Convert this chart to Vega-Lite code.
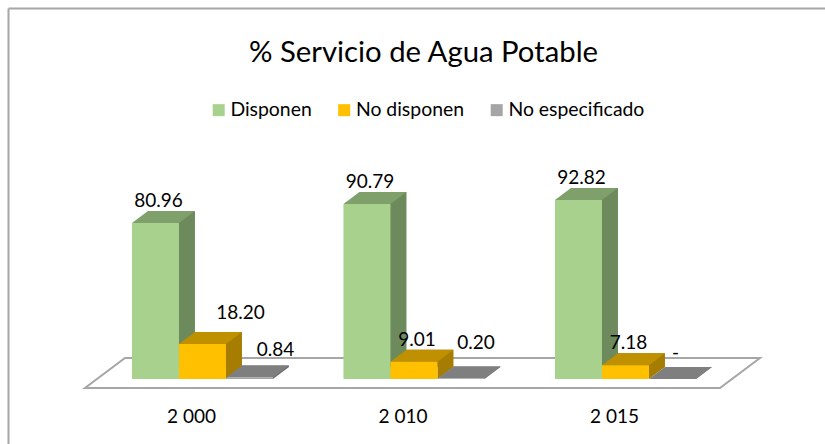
{
"$schema":"https://vega.github.io/schema/vega-lite/v6.json",
"width":817,"height":436,
"autosize":{"type":"none"},
"padding":{"left":8,"top":8,"right":0,"bottom":0},
"background":"white",
"config":{"view":{"stroke":null},"font":"Lato"},
"title":{"text":"% Servicio de Agua Potable","font":"Lato","fontSize":29.3,"fontWeight":"normal","color":"#000000","anchor":"start","dx":241,"offset":-60},
"data":{"values":[
{"year":"2 000","series":"Disponen","value":80.96,"label":"80.96"},
{"year":"2 000","series":"No disponen","value":18.20,"label":"18.20"},
{"year":"2 000","series":"No especificado","value":0.84,"label":"0.84"},
{"year":"2 010","series":"Disponen","value":90.79,"label":"90.79"},
{"year":"2 010","series":"No disponen","value":9.01,"label":"9.01"},
{"year":"2 010","series":"No especificado","value":0.20,"label":"0.20"},
{"year":"2 015","series":"Disponen","value":92.82,"label":"92.82"},
{"year":"2 015","series":"No disponen","value":7.18,"label":"7.18"},
{"year":"2 015","series":"No especificado","value":0,"label":"-"}
]},
"encoding":{
"x":{"field":"year","type":"nominal","title":null,"scale":{"range":[0,817],"paddingInner":0.3333,"paddingOuter":0.5981,"align":0.49},
"axis":{"domain":false,"ticks":false,"labelAngle":0,"labelFont":"Lato","labelFontSize":19,"labelColor":"#000000","labelPadding":0,"offset":-37,"labelOffset":-11,"grid":false}},
"xOffset":{"field":"series","type":"nominal","sort":["Disponen","No disponen","No especificado"],"scale":{"domain":["Disponen","No disponen","No especificado"],"range":[0,141]}},
"y":{"field":"value","type":"quantitative","stack":null,"title":null,"scale":{"domain":[-33.73,192.5],"nice":false,"zero":false},
"axis":{"values":[192.5],"labels":false,"ticks":false,"domain":true,"domainColor":"#a6a6a6","domainWidth":2,"grid":true,"gridColor":"#a6a6a6","gridWidth":2,"gridOpacity":1}}
},
"layer":[
{"transform":[{"filter":"datum.year==='2 010' && datum.series==='No disponen'"}],
 "mark":{"type":"point","shape":"M-329,9L-289,-21L346,-21L306,9Z","size":4,"filled":true,"fill":"#ffffff","stroke":"#a6a6a6","strokeWidth":2,"opacity":1},
 "encoding":{"y":{"datum":0,"type":"quantitative","title":null,"scale":{"domain":[-33.73,192.5],"nice":false,"zero":false},"axis":{"values":[192.5],"labels":false,"ticks":false,"domain":true,"domainColor":"#a6a6a6","domainWidth":2,"grid":true,"gridColor":"#a6a6a6","gridWidth":2,"gridOpacity":1}}}},
{"mark":{"type":"bar","yOffset":-12,"y2Offset":-12},
 "encoding":{"y2":{"datum":0},"xOffset":{"field":"series","type":"nominal","sort":["Disponen","No disponen","No especificado"],"scale":{"domain":["Disponen","No disponen","No especificado"],"range":[16,157]}},
 "color":{"field":"series","type":"nominal","legend":null,"scale":{"domain":["Disponen","No disponen","No especificado"],"range":["#6c8a5c","#a67d00","#6c6c6c"]}}}},
{"mark":{"type":"point","shape":"M23.5,0L23.5,-12L39.5,-12Z","size":4,"filled":true,"opacity":1},
 "encoding":{"y":{"datum":0,"type":"quantitative","title":null,"scale":{"domain":[-33.73,192.5],"nice":false,"zero":false},"axis":{"values":[192.5],"labels":false,"ticks":false,"domain":true,"domainColor":"#a6a6a6","domainWidth":2,"grid":true,"gridColor":"#a6a6a6","gridWidth":2,"gridOpacity":1}},
 "color":{"field":"series","type":"nominal","legend":null,"scale":{"domain":["Disponen","No disponen","No especificado"],"range":["#6c8a5c","#a67d00","#6c6c6c"]}}}},
{"mark":{"type":"point","shape":"M-23.5,0L-7.5,-12L39.5,-12L23.5,0Z","size":4,"filled":true,"opacity":1},
 "encoding":{"color":{"field":"series","type":"nominal","legend":null,"scale":{"domain":["Disponen","No disponen","No especificado"],"range":["#7f9f6b","#bf9000","#7f7f7f"]}}}},
{"mark":{"type":"bar"},
 "encoding":{"color":{"field":"series","type":"nominal","title":null,"scale":{"domain":["Disponen","No disponen","No especificado"],"range":["#a9d18e","#ffc000","#a5a5a5"]},
 "legend":{"orient":"none","legendX":201,"legendY":92,"direction":"horizontal","columns":3,"title":null,"symbolType":"square","symbolSize":144,"symbolStrokeWidth":0,"labelFont":"Lato","labelFontSize":19.4,"labelColor":"#000000","columnPadding":22.5,"labelOffset":2}}}},
{"transform":[{"filter":"indexof(['0.84','18.20','0.20','-'],datum.label)<0"}],
 "mark":{"type":"text","font":"Lato","fontSize":19,"color":"#000000","dx":3,"dy":-22,"baseline":"middle","align":"center"},
 "encoding":{"text":{"field":"label"}}},
{"transform":[{"filter":"datum.label==='18.20'"}],
 "mark":{"type":"text","font":"Lato","fontSize":19,"color":"#000000","dx":38,"dy":-31,"baseline":"middle","align":"center"},
 "encoding":{"text":{"field":"label"}}},
{"transform":[{"filter":"datum.label==='0.84'"}],
 "mark":{"type":"text","font":"Lato","fontSize":19,"color":"#000000","dx":26,"dy":-27,"baseline":"middle","align":"center"},
 "encoding":{"text":{"field":"label"}}},
{"transform":[{"filter":"datum.label==='0.20'"}],
 "mark":{"type":"text","font":"Lato","fontSize":19,"color":"#000000","dx":15,"dy":-36,"baseline":"middle","align":"center"},
 "encoding":{"text":{"field":"label"}}},
{"transform":[{"filter":"datum.label==='-'"}],
 "mark":{"type":"text","font":"Lato","fontSize":19,"color":"#000000","dx":3,"dy":-26,"baseline":"middle","align":"center"},
 "encoding":{"text":{"field":"label"}}}
],
"resolve":{"scale":{"color":"independent","xOffset":"independent"}}
}
